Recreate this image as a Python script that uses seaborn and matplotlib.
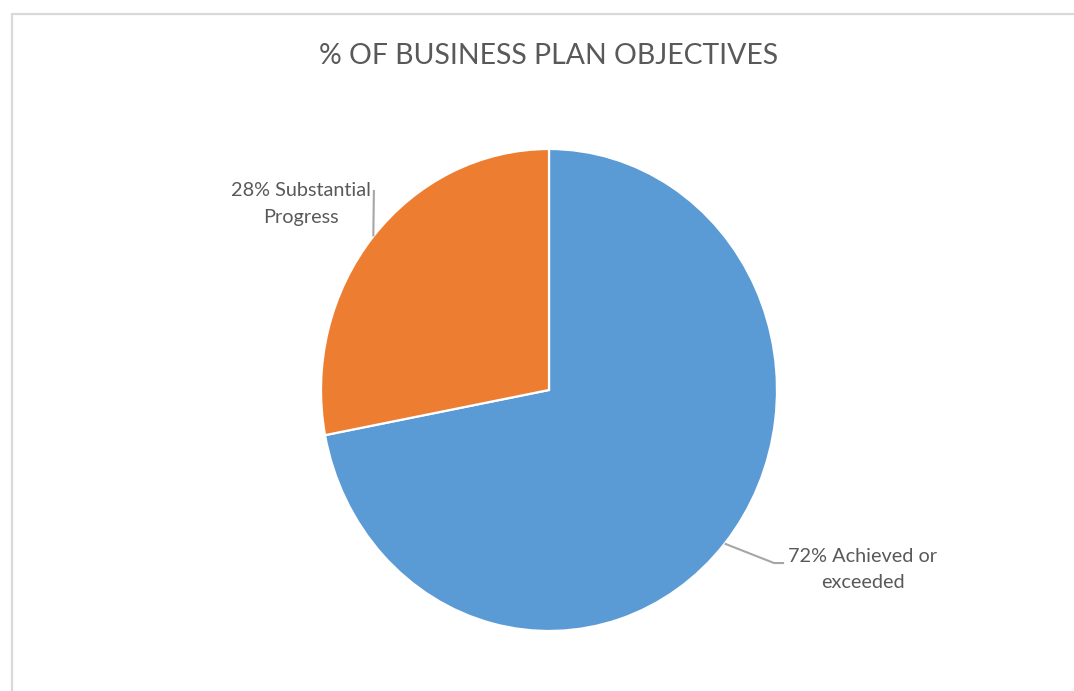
import matplotlib
matplotlib.use("Agg")
import matplotlib.pyplot as plt
import seaborn as sns
import numpy as np
from matplotlib.lines import Line2D

# Data
categories = ["Achieved or\nexceeded", "Substantial\nProgress"]
values = [72, 28]
label_texts = ["72% Achieved or\nexceeded", "28% Substantial\nProgress"]
colors_hex = ["#5B9BD5", "#ED7D31"]
title = "% OF BUSINESS PLAN OBJECTIVES"

sns.set_theme(style="white")
plt.rcParams['font.family'] = ['Lato', 'DejaVu Sans']
palette = sns.color_palette(colors_hex)

W, H = 1074, 691
fig = plt.figure(figsize=(W / 100, H / 100), dpi=100)
fig.patch.set_facecolor("white")

# Axes placed so that the pie spans the same region as the reference
cx, cy, rx, ry = 549, 390, 228, 241
ax = fig.add_axes([(cx - rx) / W, (H - cy - ry) / H, 2 * rx / W, 2 * ry / H])
wedges, _ = ax.pie(values, colors=palette, startangle=90, counterclock=False,
                   wedgeprops=dict(edgecolor="white", linewidth=1.6))
ax.set_aspect("auto")
ax.set_xlim(-1, 1)
ax.set_ylim(-1, 1)
ax.axis("off")

text_color = "#595959"
line_color = "#A6A6A6"

# Label placements (data units) : (text x, text y, leader path after wedge point)
placements = [
    dict(tx=1.377, ty=-0.745, path=[(0.987, -0.718), (1.031, -0.718)]),
    dict(tx=-1.088, ty=0.772, path=[(-0.768, 0.83)]),
]
for w, lab, pl in zip(wedges, label_texts, placements):
    ang = np.deg2rad((w.theta1 + w.theta2) / 2)
    px, py = np.cos(ang), np.sin(ang)
    xs = [px] + [p[0] for p in pl["path"]]
    ys = [py] + [p[1] for p in pl["path"]]
    ax.plot(xs, ys, color=line_color, lw=1.5, clip_on=False, solid_capstyle="butt")
    ax.text(pl["tx"], pl["ty"], lab, ha="center", va="center", fontsize=14.3,
            color=text_color, linespacing=1.67, clip_on=False)

fig.text(549 / W, 1 - 56 / H, title, ha="center", va="center", fontsize=20.4,
         color=text_color)

# Chart area border (top and left visible)
fig.add_artist(Line2D([11.5 / W, 1.0], [1 - 14 / H, 1 - 14 / H], color="#D9D9D9", lw=1.6,
                      transform=fig.transFigure))
fig.add_artist(Line2D([11.5 / W, 11.5 / W], [0, 1 - 14 / H], color="#D9D9D9", lw=1.6,
                      transform=fig.transFigure))

fig.savefig("out.png", dpi=100, facecolor="white")
